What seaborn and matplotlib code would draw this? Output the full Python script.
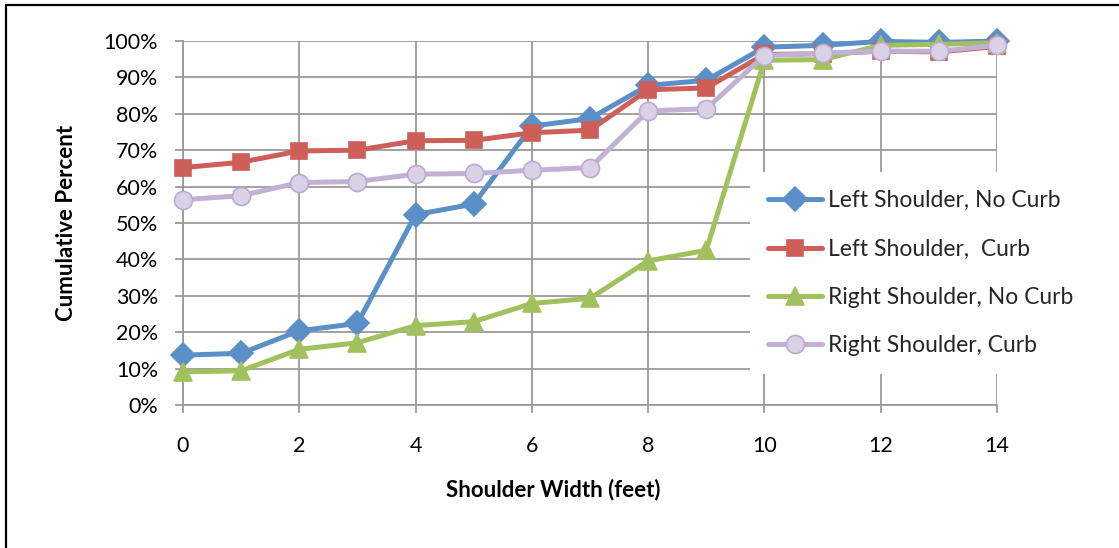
import matplotlib
matplotlib.use("Agg")
import matplotlib.pyplot as plt
from matplotlib.lines import Line2D
from matplotlib.ticker import FuncFormatter, MultipleLocator
import seaborn as sns
import pandas as pd

# Shoulder widths (feet)
width_ft = list(range(15))

# Cumulative share of segments with shoulder width <= x
left_no_curb = [0.137, 0.142, 0.204, 0.224, 0.523, 0.552, 0.766, 0.787, 0.878, 0.892,
                0.983, 0.988, 0.999, 0.996, 1.000]
left_curb = [0.652, 0.667, 0.698, 0.700, 0.726, 0.727, 0.748, 0.755, 0.866, 0.871,
             0.963, 0.965, 0.972, 0.970, 0.985]
right_no_curb = [0.091, 0.094, 0.153, 0.171, 0.218, 0.229, 0.279, 0.293, 0.396, 0.425,
                 0.947, 0.949, 0.988, 0.991, 0.995]
right_curb = [0.564, 0.575, 0.611, 0.614, 0.634, 0.636, 0.645, 0.652, 0.808, 0.814,
              0.960, 0.967, 0.972, 0.972, 0.988]

series_names = ["Left Shoulder, No Curb", "Left Shoulder,  Curb",
                "Right Shoulder, No Curb", "Right Shoulder, Curb"]
series_values = [left_no_curb, left_curb, right_no_curb, right_curb]

df = pd.concat(
    [pd.DataFrame({"width": width_ft, "pct": vals, "series": name})
     for name, vals in zip(series_names, series_values)],
    ignore_index=True,
)

sns.set_theme(style="white")
plt.rcParams["font.family"] = ["Lato", "DejaVu Sans"]

styles = {
    "Left Shoulder, No Curb": dict(color="#5A8FC8", marker="D", ms=12, mfc="#5A8FC8", mec="#5A8FC8"),
    "Left Shoulder,  Curb": dict(color="#CD5F58", marker="s", ms=12, mfc="#CD5F58", mec="#CD5F58"),
    "Right Shoulder, No Curb": dict(color="#A1C15E", marker="^", ms=13, mfc="#A1C15E", mec="#A1C15E"),
    "Right Shoulder, Curb": dict(color="#C1B2D5", marker="o", ms=13, mfc="#DAD1E6", mec="#BBAAD0"),
}

fig = plt.figure(figsize=(11.19, 5.48), dpi=100)
ax = fig.add_axes([183 / 1119, 1 - 405 / 548, (997 - 183) / 1119, (405 - 41) / 548])

for name in series_names:
    st = styles[name]
    sns.lineplot(
        data=df[df["series"] == name], x="width", y="pct", ax=ax,
        color=st["color"], linewidth=3.6, marker=st["marker"], markersize=st["ms"],
        markerfacecolor=st["mfc"], markeredgecolor=st["mec"], markeredgewidth=1.2,
        label=name, clip_on=False, zorder=3,
    )

ax.set_xlim(0, 14)
ax.set_ylim(0, 1)
ax.xaxis.set_major_locator(MultipleLocator(2))
ax.yaxis.set_major_locator(MultipleLocator(0.1))
ax.yaxis.set_major_formatter(FuncFormatter(lambda v, _: f"{v * 100:.0f}%"))

grid_color = "#9A9A9A"
ax.grid(True, color=grid_color, linewidth=1.3)
ax.set_axisbelow(True)
for side in ["top", "right"]:
    ax.spines[side].set_visible(False)
for side in ["left", "bottom"]:
    ax.spines[side].set_color(grid_color)
    ax.spines[side].set_linewidth(1.3)

tick_fs = 15.5
ax.tick_params(axis="both", which="major", direction="out", length=6, width=1.3,
               color=grid_color, labelsize=tick_fs, labelcolor="black")
ax.tick_params(axis="y", pad=12, left=True)
ax.tick_params(axis="x", pad=16, bottom=True)

label_fs = 16
ax.set_xlabel("Shoulder Width (feet)", fontsize=label_fs, fontweight="bold", color="black")
ax.set_ylabel("Cumulative Percent", fontsize=label_fs, fontweight="bold", color="black")
ax.xaxis.label.set_va("center")
ax.xaxis.set_label_coords((553 - 183) / 814, -(490 - 405) / 364)
ax.yaxis.label.set_va("center")
ax.yaxis.set_label_coords((67 - 183) / 814, 0.5)

leg = ax.legend(
    loc="upper left", bbox_to_anchor=(750 / 1119, 1 - 172 / 548),
    bbox_transform=fig.transFigure, frameon=True, fancybox=False,
    facecolor="white", edgecolor="none", framealpha=1, fontsize=16.5,
    handlelength=2.36, handletextpad=0.26, labelspacing=1.19, borderpad=0.8,
    borderaxespad=0,
)
leg.set_zorder(5)

# Chart frame edges along the top and left
fig.add_artist(Line2D([5.5 / 1119, 5.5 / 1119], [0, 1 - 5 / 548], color="black",
                      linewidth=1.6, transform=fig.transFigure))
fig.add_artist(Line2D([5.5 / 1119, 1], [1 - 5 / 548, 1 - 5 / 548], color="black",
                      linewidth=1.6, transform=fig.transFigure))

fig.savefig("out.png", dpi=100, facecolor="white")
